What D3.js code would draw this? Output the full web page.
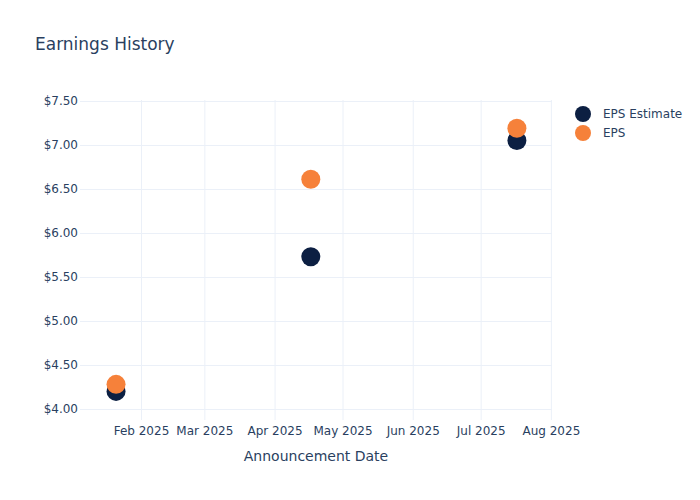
<!DOCTYPE html>
<html>
<head>
<meta charset="utf-8">
<script src="https://cdn.jsdelivr.net/npm/d3@7"></script>
<style>
  html, body { margin: 0; padding: 0; background: #fff; }
  svg { display: block; font-family: "DejaVu Sans", "Open Sans", Verdana, sans-serif; }
</style>
</head>
<body>
<svg id="chart" width="700" height="500"></svg>
<script>
// ---- data ----
const dates = ["2025-01-21", "2025-04-17", "2025-07-17"];
const epsEstimate = [4.20, 5.73, 7.05];
const epsActual = [4.28, 6.61, 7.19];
const seriesNames = ["EPS Estimate", "EPS"];
const seriesColors = ["#0c1f42", "#f6813a"];
const yTicks = [4.0, 4.5, 5.0, 5.5, 6.0, 6.5, 7.0, 7.5];
const xTickDates = ["2025-02-01", "2025-03-01", "2025-04-01", "2025-05-01", "2025-06-01", "2025-07-01", "2025-08-01"];
const titleText = "Earnings History";
const xTitle = "Announcement Date";

// ---- layout ----
const svg = d3.select("#chart");
const plot = { left: 80, right: 552, top: 100, bottom: 420 };
const textColor = "#2a3f5f";
const gridColor = "#ebf0f8";

const parse = d3.utcParse("%Y-%m-%d");
const x = d3.scaleUtc()
  .domain([new Date(Date.UTC(2025, 0, 5, 2)), new Date(Date.UTC(2025, 7, 1, 12))])
  .range([plot.left, plot.right]);
const y = d3.scaleLinear()
  .domain([3.875, 7.511])
  .range([plot.bottom, plot.top]);

// gridlines
const gY = svg.append("g").attr("transform", `translate(${plot.left},0)`)
  .call(d3.axisLeft(y).tickValues(yTicks).tickSize(-(plot.right - plot.left)).tickFormat(d => "$" + d.toFixed(2)).tickPadding(2));
gY.select(".domain").remove();
gY.selectAll(".tick line").attr("stroke", gridColor).attr("stroke-width", 1);
gY.selectAll(".tick text").attr("fill", textColor).attr("font-size", 12)
  .attr("font-family", "DejaVu Sans, sans-serif");

const gX = svg.append("g").attr("transform", `translate(0,${plot.bottom})`)
  .call(d3.axisBottom(x).tickValues(xTickDates.map(parse)).tickSize(-(plot.bottom - plot.top)).tickFormat(d3.utcFormat("%b %Y")).tickPadding(6));
gX.select(".domain").remove();
gX.selectAll(".tick line").attr("stroke", gridColor).attr("stroke-width", 1);
gX.selectAll(".tick text").attr("fill", textColor).attr("font-size", 12)
  .attr("font-family", "DejaVu Sans, sans-serif");

// points
const series = [epsEstimate, epsActual];
series.forEach((vals, si) => {
  svg.append("g").selectAll("circle")
    .data(vals.map((v, i) => ({ d: parse(dates[i]), v })))
    .join("circle")
    .attr("cx", p => x(p.d))
    .attr("cy", p => y(p.v))
    .attr("r", 9.5)
    .attr("fill", seriesColors[si]);
});

// title
svg.append("text").attr("x", 35).attr("y", 50)
  .attr("fill", textColor).attr("font-size", 17).text(titleText);

// x axis title
svg.append("text").attr("x", (plot.left + plot.right) / 2).attr("y", 461)
  .attr("text-anchor", "middle").attr("fill", textColor).attr("font-size", 14).text(xTitle);

// legend
const lg = svg.append("g");
seriesNames.forEach((name, i) => {
  const yy = 114 + i * 19;
  lg.append("circle").attr("cx", 583).attr("cy", yy).attr("r", 8).attr("fill", seriesColors[i]);
  lg.append("text").attr("x", 603).attr("y", yy + 4).attr("fill", textColor).attr("font-size", 12).text(name);
});
</script>
</body>
</html>
